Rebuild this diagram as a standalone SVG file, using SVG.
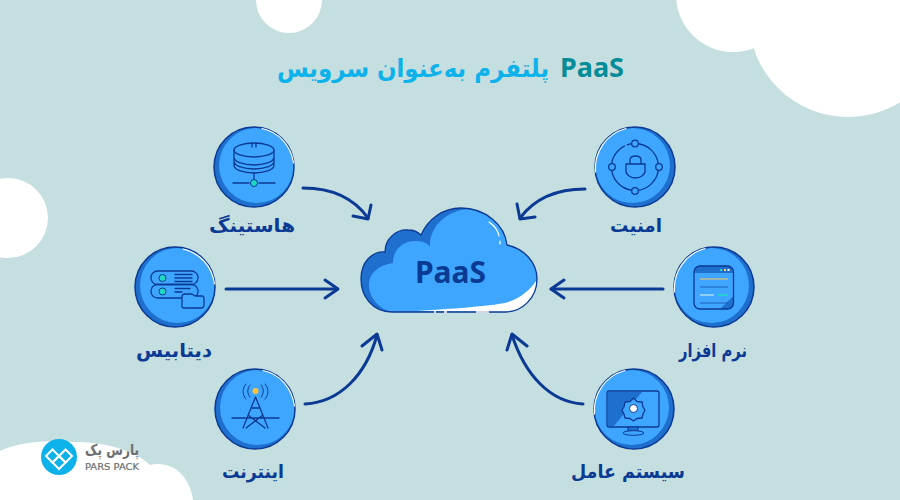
<svg xmlns="http://www.w3.org/2000/svg" width="900" height="500" viewBox="0 0 900 500">
<style>
.fa{font-family:"DejaVu Sans",sans-serif;font-weight:700;direction:rtl;text-anchor:middle}
.lb{font-size:19px;fill:#0b3a94}
.ln{fill:none;stroke:#0b3a94;stroke-width:1.3;stroke-linecap:round;stroke-linejoin:round}
.cn{fill:none;stroke:#0b3a94;stroke-width:3;stroke-linecap:round;stroke-linejoin:round}
.d{fill:#1f6fcf}
.r{fill:none;stroke:#0b3a94;stroke-width:1.5}
.i{fill:#3fa6ff}
.h{fill:none;stroke:#fff;stroke-width:1.2;stroke-linecap:round}
.dot{fill:#1fd8c4;stroke:#0b3a94}
</style>
<rect width="900" height="500" fill="#c5dfe0"/>
<g id="background" fill="#fff">
<circle cx="289" cy="0" r="33"/>
<circle cx="8" cy="218" r="40"/>
<circle cx="733" cy="-5" r="57"/>
<circle cx="848" cy="18" r="99"/>
<path d="M0 451C20 441 50 440 72 442C105 442 135 450 150 465C172 460 190 476 193 500H0Z"/>
</g>
<g id="title">
<text x="592" y="77" font-family="'Noto Sans',sans-serif" font-weight="700" font-size="27" fill="#048c98" text-anchor="middle">PaaS</text>
<text transform="translate(413 77) scale(.917 1)" x="0" y="0" class="fa" font-size="25" fill="#0db2ea">پلتفرم به‌عنوان سرویس</text>
</g>
<g id="connectors" class="cn">
<path d="M303 188C330 188 353 197 368 218"/><path d="M353 216L368 219L371 205"/>
<path d="M226 289H337"/><path d="M325 280L338 289L325 298"/>
<path d="M305 404C340 402 366 375 377 335"/><path d="M362 346L377 334L382 350"/>
<path d="M585 189C557 189 535 198 520 218"/><path d="M517 204L520 219L535 217"/>
<path d="M663 289H551"/><path d="M564 280L551 289L564 298"/>
<path d="M583 404C550 402 525 375 512 335"/><path d="M507 350L512 334L527 346"/>
</g>
<g id="cloud">
<path class="d" d="M392 312C372 312 361 296 361 279C361 262 372 251 385 252C385 238 397 229 408 230C414 230 418 232 421 235C428 219 443 208 461 208C485 208 505 225 507 245C525 249 537 263 537 279C537 298 522 312 505 312Z"/>
<path class="i" d="M392 312C376 308 369 295 369 285C369 272 380 265 393 263C393 250 402 241 416 241C422 241 428 243 430 247C429 228 445 211 468 209C488 210 505 226 507 245C525 249 537 263 537 279C537 298 522 312 505 312Z"/>
<path d="M417 311C450 309 490 306 505 303C520 299 530 290 536 281C537 298 522 312 505 312Z" fill="#fff"/>
<path d="M392 312C372 312 361 296 361 279C361 262 372 251 385 252C385 238 397 229 408 230C414 230 418 232 421 235C428 219 443 208 461 208C485 208 505 225 507 245C525 249 537 263 537 279C537 298 522 312 505 312Z" fill="none" stroke="#0b3a94" stroke-width="1.300"/>
<path d="M434 312H436M444 312H447M476 312H489" stroke="#fff" stroke-width="1.500" fill="none"/>
<path class="h" d="M489 222C495 226 498 231 499 236M500 241V244"/>
<text x="450.500" y="283" font-family="'Noto Sans',sans-serif" font-weight="700" font-size="30" fill="#0b3a94" text-anchor="middle">PaaS</text>
</g>
<g id="hosting">
<circle class="d" cx="254" cy="167" r="40"/>
<circle class="i" cx="256.500" cy="165.500" r="37.500"/>
<circle class="r" cx="254" cy="167" r="40"/>
<path class="h" d="M262 128.500C279 132 291 146 293.500 163"/>
<g class="ln">
<ellipse cx="254" cy="150" rx="20" ry="7"/>
<path d="M234 150V165C234 170 244 173 254 173C264 173 274 170 274 165V150M234 157C234 162 244 165 254 165C264 165 274 162 274 157M234 161C234 166 244 169 254 169C264 169 274 166 274 161"/>
<path d="M252 143V147M256 143V147M254 173V180M233 183H249M259 183H275"/>
</g>
<circle class="dot" cx="254" cy="183" r="3.500"/>
<text x="252" y="232" class="fa lb" textLength="86" lengthAdjust="spacingAndGlyphs">هاستینگ</text>
</g>
<g id="database">
<circle class="d" cx="175" cy="287" r="40"/>
<circle class="i" cx="177.500" cy="285.500" r="37.500"/>
<circle class="r" cx="175" cy="287" r="40"/>
<path class="h" d="M183 249C200 253 212 266 214.500 284"/>
<g class="ln">
<rect x="151" y="271" width="47" height="13.500" rx="6.500"/>
<rect x="151" y="284.500" width="47" height="13.500" rx="6.500"/>
<path d="M175 274.500H192M175 278H192M175 281.500H192M175 288.500H190M175 292H182"/>
<path d="M182 307V297C182 295 183 294 185 294H192L195 296H202C203 296 204 297 204 299V305C204 307 203 308 201 308H184C183 308 182 308 182 307Z" fill="#3fa6ff"/>
</g>
<circle class="dot" cx="162.500" cy="278" r="3.500"/>
<circle class="dot" cx="162.500" cy="291.500" r="3.500"/>
<text x="174" y="357" class="fa lb" textLength="76" lengthAdjust="spacingAndGlyphs">دیتابیس</text>
</g>
<g id="internet">
<circle class="d" cx="255" cy="409" r="40"/>
<circle class="i" cx="257.500" cy="407.500" r="37.500"/>
<circle class="r" cx="255" cy="409" r="40"/>
<path class="h" d="M263 370.500C280 374 292 388 294.500 406"/>
<g class="ln">
<path d="M232 418H279M243 428L255.500 397L268 428M251 408H260M248 415L265 428M263 415L246 428"/>
<path d="M250 385C247 388 247 394 250 397M261 385C264 388 264 394 261 397M246 384C242 388 242 395 246 399M265 384C269 388 269 395 265 399" stroke-width="1"/>
</g>
<circle cx="255.500" cy="391" r="3" fill="#ffc233"/>
<text x="253" y="478" class="fa lb" textLength="62" lengthAdjust="spacingAndGlyphs">اینترنت</text>
</g>
<g id="security">
<circle class="d" cx="635" cy="167" r="40"/>
<circle class="i" cx="632.500" cy="165.500" r="37.500"/>
<circle class="r" cx="635" cy="167" r="40"/>
<path class="h" d="M595.500 172C594 152 606 134 626 128.500"/>
<g class="ln">
<circle cx="635" cy="167" r="23.500" stroke-dasharray="36 3 60 3 46"/>
<circle cx="635" cy="143.500" r="3.300" fill="#3fa6ff"/>
<circle cx="635" cy="191" r="3.300" fill="#3fa6ff"/>
<circle cx="612" cy="167" r="3.300" fill="#3fa6ff"/>
<circle cx="659" cy="167" r="3.300" fill="#3fa6ff"/>
<path d="M626 164H645V171C645 175 640 178 635.500 178C631 178 626 175 626 171ZM630 164V160C630 157 632 156 635.500 156C639 156 641 157 641 160V164"/>
</g>
<text x="636" y="232" class="fa lb" textLength="52" lengthAdjust="spacingAndGlyphs">امنیت</text>
</g>
<g id="software">
<circle class="d" cx="714" cy="287" r="40"/>
<circle class="i" cx="711.500" cy="285.500" r="37.500"/>
<circle class="r" cx="714" cy="287" r="40"/>
<path class="h" d="M674.500 292C673 272 685 254 705 248.500"/>
<rect x="694" y="266" width="39.500" height="43" rx="6" fill="#3fa6ff"/>
<path d="M694 272C694 268 697 266 700 266H727.500C731 266 733.500 268 733.500 272V273H694Z" fill="#1f6fcf"/>
<path d="M720 309L733.500 296V303C733.500 306 731 309 727.500 309Z" fill="#1f6fcf"/>
<rect x="694" y="266" width="39.500" height="43" rx="6" fill="none" stroke="#0b3a94" stroke-width="1.300"/>
<path d="M700 279H728" stroke="#ffc95c" fill="none"/>
<path d="M700 287H728M700 303H728" stroke="#1f5fb8" fill="none"/>
<path d="M700 295H714" stroke="#a9dcf5" stroke-width="1.500"/>
<path d="M718 295H728" stroke="#1fd8c4" stroke-width="1.500"/>
<path d="M720 270H722" stroke="#1fd8c4" stroke-width="2"/>
<path d="M724 270H726" stroke="#ffc95c" stroke-width="2"/>
<path d="M727.500 270H729.500" stroke="#fff" stroke-width="2"/>
<text x="713" y="357" class="fa lb" textLength="68" lengthAdjust="spacingAndGlyphs">نرم افزار</text>
</g>
<g id="os">
<circle class="d" cx="634" cy="409" r="40"/>
<circle class="i" cx="631.500" cy="407.500" r="37.500"/>
<circle class="r" cx="634" cy="409" r="40"/>
<path class="h" d="M594.500 414C593 394 605 376 625 370.500"/>
<rect x="607" y="391" width="52" height="36" rx="2" fill="#3fa6ff"/>
<path d="M608 392H642L614 426H608Z" fill="#1f6fcf"/>
<rect x="607" y="391" width="52" height="36" rx="2" fill="none" stroke="#0b3a94" stroke-width="1.300"/>
<rect x="628" y="427" width="10" height="6" fill="#1f6fcf" stroke="#0b3a94"/>
<ellipse cx="633.500" cy="433" rx="10.500" ry="2.300" fill="#3fa6ff" stroke="#0b3a94"/>
<path d="M633.500 398L637 401.500L642 402L643 407L645 410L643 414L642 418L637 418.500L633.500 421L630 418.500L625 418L624 414L622 410L624 407L625 402L630 401.500Z" fill="#3fa6ff" stroke="#0b3a94" stroke-width="1.300" stroke-linejoin="round"/>
<circle cx="633.500" cy="408.500" r="4" fill="#fff" stroke="#0b3a94"/>
<text x="628" y="478" class="fa lb" textLength="114" lengthAdjust="spacingAndGlyphs">سیستم عامل</text>
</g>
<g id="logo">
<circle cx="59" cy="457" r="18" fill="#0db2ea"/>
<g fill="none" stroke="#fff" stroke-width="2">
<path d="M52.500 449.500L59 456L52.500 462.500L46 456Z"/>
<path d="M65.500 449.500L72 456L65.500 462.500L59 456Z"/>
<path d="M59 456L65.500 462.500L59 469L52.500 462.500Z"/>
</g>
<text x="112" y="455" class="fa" font-size="15" fill="#6d6e71" textLength="54" lengthAdjust="spacingAndGlyphs">پارس پک</text>
<text x="112" y="469.500" font-family="'DejaVu Sans',sans-serif" font-size="9.500" fill="#6d6e71" stroke="#6d6e71" stroke-width=".2" text-anchor="middle" textLength="54" lengthAdjust="spacingAndGlyphs">PARS PACK</text>
</g>
</svg>
